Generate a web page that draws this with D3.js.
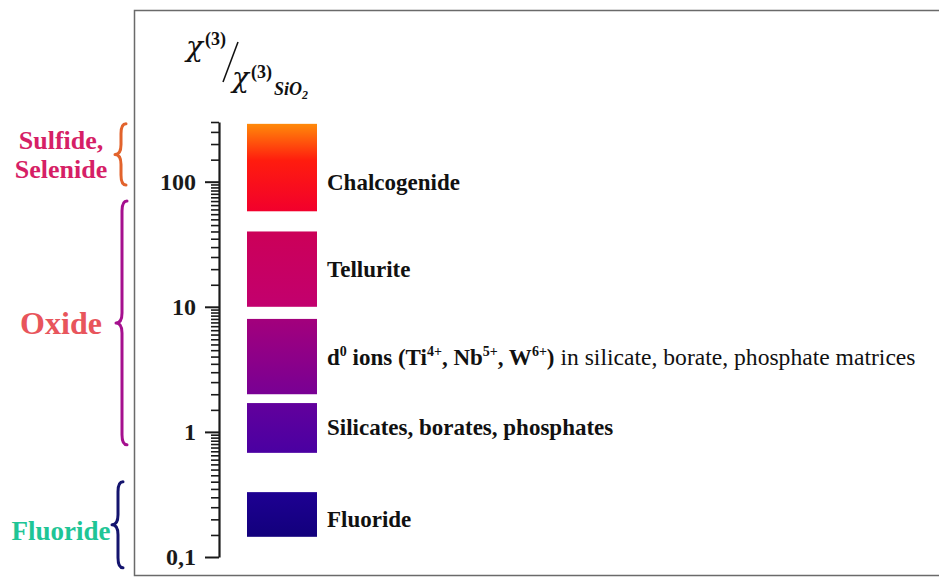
<!DOCTYPE html>
<html><head><meta charset="utf-8">
<script src="https://cdn.jsdelivr.net/npm/d3@7"></script>
<style>
html,body{margin:0;padding:0;background:#fff;}
svg{display:block;font-family:"Liberation Serif","Times New Roman",serif;}
</style></head>
<body>
<svg id="chart" width="939" height="579"></svg>
<script>
// ---- data ----
const categories = ["Chalcogenide", "Tellurite", "d0 ions", "Silicates, borates, phosphates", "Fluoride"];
const rangeLow  = [58, 10, 2, 0.68, 0.145];
const rangeHigh = [290, 40, 8, 1.7, 0.33];
const labelAt   = [100, 20, 3.4, 1.1, 0.2];
const majorTicks = [0.1, 1, 10, 100];
const majorTickLabels = ["0,1", "1", "10", "100"];
const minorMantissas = [1.5, 2, 2.5, 3, 3.5, 4, 4.5, 5, 5.5, 6, 6.5, 7, 7.5, 8, 8.5, 9, 9.5];
const axisDomain = [0.1, 300];
const groups = ["Sulfide,\nSelenide", "Oxide", "Fluoride"];
const groupLow  = [94, 0.79, 0.082];
const groupHigh = [290, 70, 0.4];

// ---- styles ----
const barTop    = ["#ff8a0a", "#cc0058", "#a3007c", "#62009c", "#1e0092"];
const barBottom = ["#f2002c", "#c2006e", "#780094", "#4a00a2", "#12007c"];
const groupTextColor  = ["#d61f66", "#e8555c", "#1fc596"];
const groupBraceColor = ["#e2632c", "#a5108e", "#14146e"];
const groupFont = [26, 32, 27];

const svg = d3.select("#chart");

// frame
svg.append("rect").attr("x", 134.5).attr("y", 10.5).attr("width", 820).attr("height", 565)
  .attr("fill", "none").attr("stroke", "#6a6a6a").attr("stroke-width", 1.5);

const y = d3.scaleLog().domain(axisDomain).range([557, 122]);

// gradients
const defs = svg.append("defs");
categories.forEach((c, i) => {
  const g = defs.append("linearGradient").attr("id", "grad" + i)
    .attr("x1", 0).attr("y1", 0).attr("x2", 0).attr("y2", 1);
  g.append("stop").attr("offset", "0%").attr("stop-color", barTop[i]);
  if (i === 0) g.append("stop").attr("offset", "42%").attr("stop-color", "#ff1c0e");
  g.append("stop").attr("offset", "100%").attr("stop-color", barBottom[i]);
});

// axis
const minorTicks = [];
[0.1, 1, 10].forEach(d => minorMantissas.forEach(m => minorTicks.push(+(d * m).toPrecision(3))));
[150, 200, 250, 300].forEach(v => minorTicks.push(v));

const axisX = 219;
const gMinor = svg.append("g").attr("transform", `translate(${axisX},0)`)
  .call(d3.axisLeft(y).tickValues(minorTicks).tickSize(8).tickSizeOuter(0).tickFormat(""));
gMinor.select(".domain").remove();
gMinor.selectAll(".tick line").attr("stroke", "#1a1a1a").attr("stroke-width", 1.6);

const gMajor = svg.append("g").attr("transform", `translate(${axisX},0)`)
  .call(d3.axisLeft(y).tickValues(majorTicks).tickSize(14).tickSizeOuter(0).tickPadding(9)
    .tickFormat((d, i) => majorTickLabels[i]));
gMajor.attr("font-family", "Liberation Serif");
gMajor.select(".domain").attr("stroke", "#1a1a1a").attr("stroke-width", 2.2);
gMajor.selectAll(".tick line").attr("stroke", "#1a1a1a").attr("stroke-width", 2);
gMajor.selectAll(".tick text").attr("font-weight", "bold")
  .attr("font-size", 24).attr("fill", "#1a1a1a");

// bars
const barX = 247, barW = 70;
svg.append("g").selectAll("rect").data(categories).join("rect")
  .attr("x", barX).attr("width", barW)
  .attr("y", (d, i) => y(rangeHigh[i]))
  .attr("height", (d, i) => y(rangeLow[i]) - y(rangeHigh[i]))
  .attr("fill", (d, i) => `url(#grad${i})`);

// labels
const lab = svg.append("g").attr("font-size", 23).attr("fill", "#111");
categories.forEach((c, i) => {
  const t = lab.append("text").attr("x", 327).attr("y", y(labelAt[i])).attr("dy", "0.35em");
  if (c === "d0 ions") {
    const segs = [
      ["d", 0, "bold"], ["0", 1, "bold"], [" ions (Ti", 0, "bold"], ["4+", 1, "bold"],
      [", Nb", 0, "bold"], ["5+", 1, "bold"], [", W", 0, "bold"], ["6+", 1, "bold"],
      [")", 0, "bold"], [" in silicate, borate, phosphate matrices", 0, "normal"]
    ];
    let prevSup = 0;
    segs.forEach(([s, sup, fw]) => {
      const ts = t.append("tspan").text(s).attr("font-weight", fw);
      if (sup) ts.attr("font-size", 14).attr("dy", prevSup ? 0 : -9);
      else ts.attr("dy", prevSup ? 9 : 0);
      if (fw === "normal") ts.attr("font-size", 23.6);
      prevSup = sup;
    });
  } else {
    t.attr("font-weight", "bold").text(c);
  }
});

// braces
function bracePath(x, y0, y1, w, tip) {
  const ym = (y0 + y1) / 2, r = Math.min(10, (y1 - y0) / 6);
  return `M${x + w},${y0} Q${x},${y0} ${x},${y0 + r} L${x},${ym - r} Q${x},${ym} ${x - tip},${ym}` +
         ` Q${x},${ym} ${x},${ym + r} L${x},${y1 - r} Q${x},${y1} ${x + w},${y1}`;
}
const braceX = [121, 122, 118];
groups.forEach((gname, i) => {
  const y0 = y(groupHigh[i]), y1 = y(groupLow[i]);
  svg.append("path").attr("d", bracePath(braceX[i], y0, y1, 5, 6))
    .attr("fill", "none").attr("stroke", groupBraceColor[i]).attr("stroke-width", 3)
    .attr("stroke-linecap", "round").attr("stroke-linejoin", "round");
  const ym = (y0 + y1) / 2;
  const lines = gname.split("\n");
  const t = svg.append("text").attr("x", 61).attr("text-anchor", "middle")
    .attr("font-weight", "bold").attr("font-size", groupFont[i]).attr("fill", groupTextColor[i]);
  const lh = groupFont[i] * 1.12;
  lines.forEach((l, k) => {
    t.append("tspan").attr("x", 61)
      .attr("y", ym + (k - (lines.length - 1) / 2) * lh + groupFont[i] * 0.35 + (i === 2 ? 6 : 0))
      .text(l);
  });
});

// title: chi(3) / chi(3)_SiO2
const tt = svg.append("g").attr("fill", "#111");
tt.append("text").attr("x", 186).attr("y", 56).attr("font-size", 28).attr("font-style", "italic")
  .attr("font-family", "DejaVu Serif").text("χ");
tt.append("text").attr("x", 205).attr("y", 45).attr("font-size", 18).attr("font-weight", "bold").text("(3)");
tt.append("line").attr("x1", 223).attr("y1", 82).attr("x2", 238).attr("y2", 42)
  .attr("stroke", "#111").attr("stroke-width", 1.6);
tt.append("text").attr("x", 232).attr("y", 87).attr("font-size", 28).attr("font-style", "italic")
  .attr("font-family", "DejaVu Serif").text("χ");
tt.append("text").attr("x", 251).attr("y", 78).attr("font-size", 18).attr("font-weight", "bold").text("(3)");
const sub = tt.append("text").attr("x", 274).attr("y", 95).attr("font-size", 18)
  .attr("font-style", "italic").attr("font-weight", "bold");
sub.append("tspan").text("SiO");
sub.append("tspan").attr("font-size", 12).attr("dy", 4).text("2");
</script>
</body></html>
